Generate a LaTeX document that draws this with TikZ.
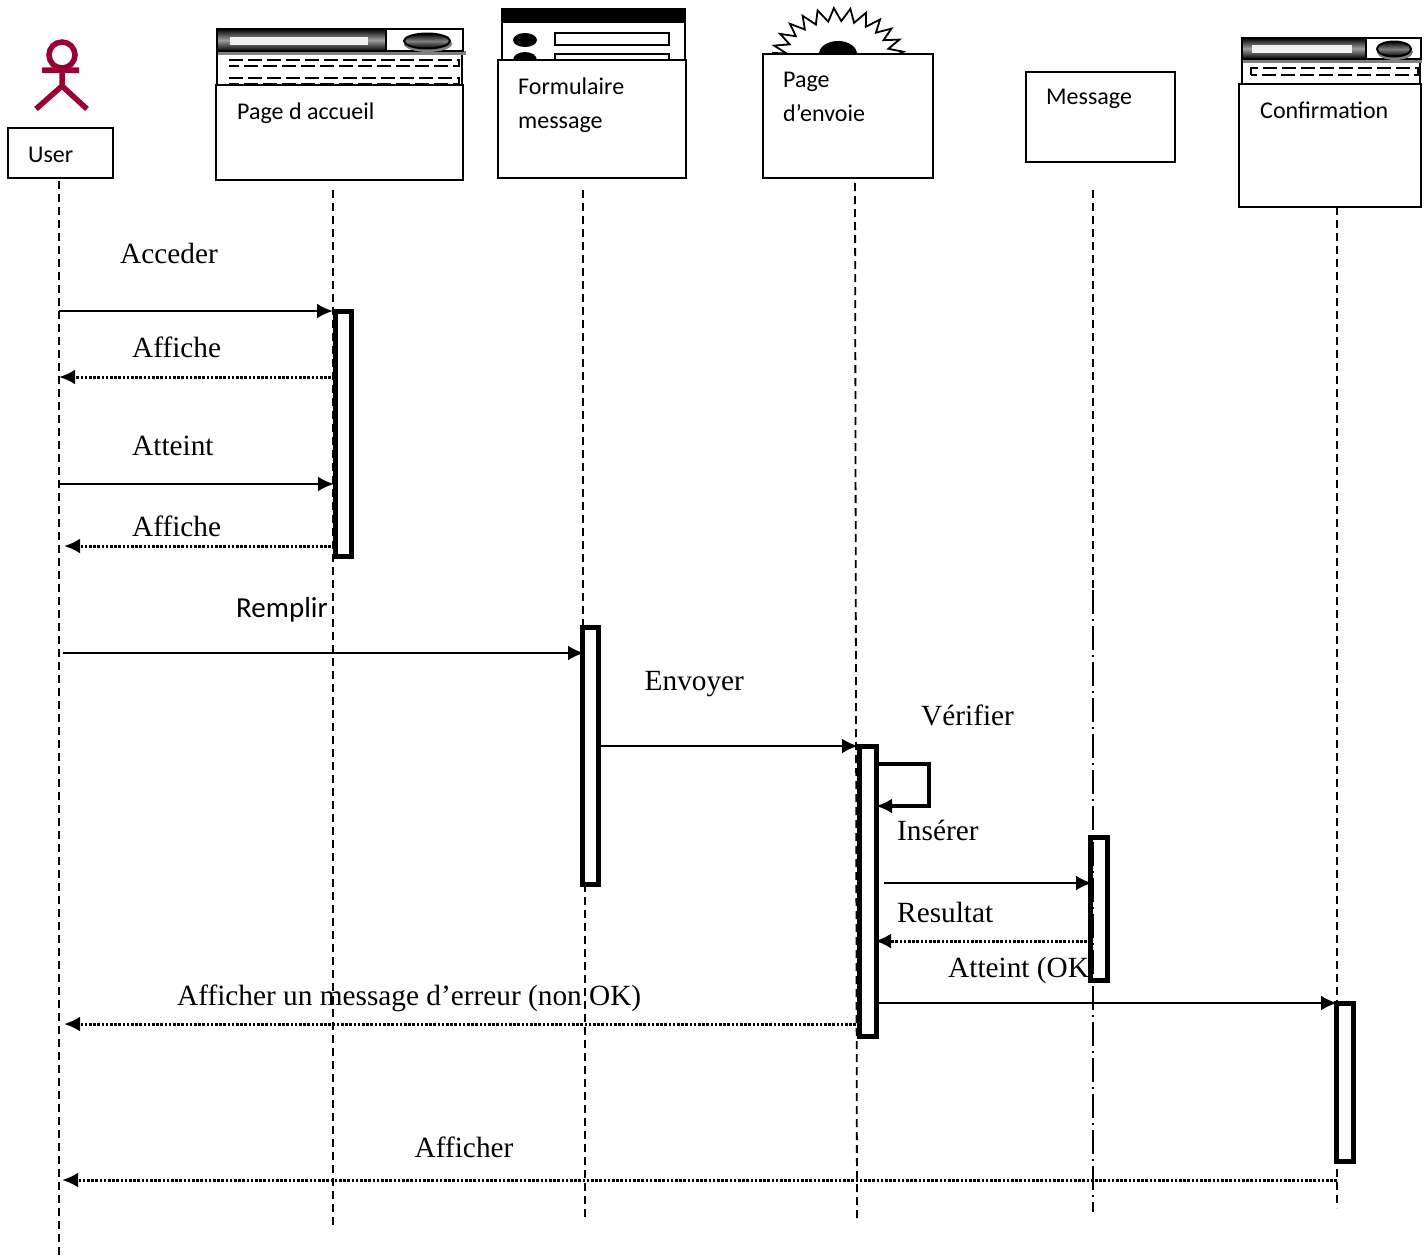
\documentclass[tikz,border=0pt]{standalone}
\usepackage{fontspec}
\setmainfont{Liberation Serif}
\newfontfamily\boxfont{Carlito}
\usetikzlibrary{arrows.meta}
\definecolor{actorred}{HTML}{990033}

\begin{document}
\begin{tikzpicture}[x=1pt, y=-1pt, >={Latex[length=16pt,width=15pt]},
  objbox/.style={draw, line width=2pt, fill=white, anchor=north west, inner sep=0pt, outer sep=0pt},
  objtext/.style={anchor=west, inner sep=0pt, align=left, font=\boxfont\fontsize{24}{34}\selectfont},
  msgtext/.style={anchor=west, inner sep=0pt, font=\fontsize{29.3}{34}\selectfont},
  bar/.style={draw, line width=5pt, fill=white, anchor=north west, inner sep=0pt, outer sep=0pt},
  life/.style={line width=1.8pt, dash pattern=on 8pt off 5pt},
  call/.style={->, line width=2.8pt},
  reply/.style={->, line width=3pt, dash pattern=on 2.6pt off 1.6pt},
  titlebar/.style={draw=black, line width=2.5pt, top color=black, bottom color=black, middle color=gray!75},
  dashrow/.style={draw, line width=2.6pt, dash pattern=on 14pt off 5pt}]

\useasboundingbox (0,0) rectangle (1426,1259);

% ---- actor ----
\draw[actorred, line width=5.5pt] (62,55) circle (13);
\draw[actorred, line width=5.5pt] (42,70) -- (79,70) (62,70) -- (62,86) (36,109) -- (62,86) -- (87,109);

% ---- window of page d accueil ----
\draw[line width=1.8pt] (217,52) -- (217,85) (462,52) -- (462,85);
\fill[gray] (218,51) rectangle (466,55);
\draw[titlebar] (217,29) rectangle (386,51);
\fill[gray!12] (230,37) rectangle (368,45);
\draw[line width=2pt, fill=white, draw=black] (386,29) rectangle (463,51);
\fill[gray] (428,44) ellipse (24 and 8);
\draw[line width=2pt, top color=black, bottom color=black, middle color=gray] (427,41) ellipse (23 and 7.5);
\draw[dashrow] (229,60) -- (459,60) -- (459,66) -- (229,66);
\draw[dashrow] (229,78) -- (459,78) -- (459,84) -- (229,84);

% ---- window of formulaire ----
\fill (501,8) rectangle (686,23);
\draw[line width=2pt] (502,23) -- (502,60) (685,23) -- (685,60);
\fill (525,40) ellipse (12 and 7);
\fill (525,60) ellipse (12 and 8);
\draw[line width=2pt] (555,33) rectangle (669,45);
\draw[line width=2pt] (555,54) rectangle (669,66);

% ---- sun of page d'envoie ----
\draw[line width=1.8pt, line join=miter] (772,53)
  \foreach \i in {1,...,25} { -- ({838+(mod(\i,2)==1 ? 52 : 66)*cos(180-\i*7.2)}, {58-(mod(\i,2)==1 ? 37 : 50)*sin(180-\i*7.2)}) };
\fill (838,54) ellipse (19 and 13);

% ---- window of confirmation ----
\draw[line width=1.8pt] (1242,60) -- (1242,84) (1420,60) -- (1420,84);
\fill[gray] (1243,59) rectangle (1422,63);
\draw[titlebar] (1242,38) rectangle (1366,59);
\fill[gray!12] (1252,45) rectangle (1352,53);
\draw[line width=2pt, fill=white] (1366,38) rectangle (1421,59);
\fill[gray] (1395,52) ellipse (18 and 8);
\draw[line width=2pt, top color=black, bottom color=black, middle color=gray] (1394,49) ellipse (17 and 7.5);
\draw[dashrow] (1251,75) -- (1251,68) -- (1418,68) -- (1418,75) -- (1251,75);

% ---- objects ----
\node[objbox, minimum width=105pt, minimum height=50pt] (user) at (7.5,128) {};
\node[objbox, minimum width=247pt, minimum height=95pt] (accueil) at (216,85) {};
\node[objbox, minimum width=188pt, minimum height=118pt] (formulaire) at (497.5,60) {};
\node[objbox, minimum width=170pt, minimum height=124pt] (envoie) at (762.5,54) {};
\node[objbox, minimum width=149pt, minimum height=90pt] (message) at (1025.5,72) {};
\node[objbox, minimum width=182pt, minimum height=123pt] (confirmation) at (1239,84) {};

\node[objtext] (tuser) at (28,155) {User};
\node[objtext] (taccueil) at (237,113) {Page d accueil};
\node[objtext] (tform) at (518,105) {Formulaire\\message};
\node[objtext] (tenvoie) at (783,97) {Page\\d’envoie};
\node[objtext] (tmessage) at (1046,99) {Message};
\node[objtext] (tconf) at (1260,110) {Confirmation};

% ---- lifeline ends ----
\coordinate (luser1) at (59,181);
\coordinate (luser2) at (59,1259);
\coordinate (lacc1) at (333,190);
\coordinate (lacc2) at (333,1225);
\coordinate (lform1) at (583,190);
\coordinate (lform2) at (583,627);
\coordinate (lform3) at (585,884);
\coordinate (lform4) at (585,1218);
\coordinate (lenv1) at (855,183);
\coordinate (lenv2) at (857,1220);
\coordinate (lmsg1) at (1093,190);
\coordinate (lmsg2) at (1093,590);
\coordinate (lmsg3) at (1093,1212);
\coordinate (lconf1) at (1337,207);
\coordinate (lconf2) at (1337,1208);

\draw[life] (luser1) -- (luser2);
\draw[life] (lacc1) -- (lacc2);
\draw[life] (lform1) -- (lform2);
\draw[life] (lform3) -- (lform4);
\draw[life] (lenv1) -- (lenv2);
\draw[life] (lconf1) -- (lconf2);

% ---- activation bars ----
\node[bar, minimum width=16pt, minimum height=245pt] (bacc) at (335,311) {};
\node[bar, minimum width=16pt, minimum height=257pt] (bform) at (582,627) {};
\node[bar, minimum width=17pt, minimum height=290pt] (benv) at (859,746) {};
\node[bar, minimum width=17pt, minimum height=143pt] (bmsg) at (1090,837) {};
\node[bar, minimum width=17pt, minimum height=158pt] (bconf) at (1336,1003) {};

\draw[life] (lmsg1) -- (lmsg2);
\draw[line width=1.8pt, dash pattern=on 24pt off 5pt on 2pt off 5pt] (lmsg2) -- (lmsg3);

% ---- message ends ----
\coordinate (a1) at (59,311);
\coordinate (a2) at (333,311);
\coordinate (b1) at (331,377);
\coordinate (b2) at (59,377);
\coordinate (c1) at (59,484);
\coordinate (c2) at (334,484);
\coordinate (d1) at (331,546);
\coordinate (d2) at (64,546);
\coordinate (e1) at (63,653);
\coordinate (e2) at (584,653);
\coordinate (f1) at (600,746);
\coordinate (f2) at (858,746);
\coordinate (g1) at (877,764);
\coordinate (g2) at (929,806);
\coordinate (g3) at (876,806);
\coordinate (h1) at (884,883);
\coordinate (h2) at (1092,883);
\coordinate (i1) at (1087,941);
\coordinate (i2) at (875,941);
\coordinate (j1) at (876,1003);
\coordinate (j2) at (1337,1003);
\coordinate (k1) at (856,1024);
\coordinate (k2) at (64,1024);
\coordinate (m1) at (1337,1180);
\coordinate (m2) at (62,1180);

\node[msgtext] (tacceder) at (120,253) {Acceder};
\node[msgtext] (taffiche) at (132,347) {Affiche};
\node[msgtext] (tatteint) at (132,446) {Atteint};
\node[msgtext] (taffiche2) at (132,526) {Affiche};
\node[anchor=west, inner sep=0pt, font=\boxfont\fontsize{29}{32}\selectfont] (tremplir) at (236,610) {Remplir};
\node[msgtext] (tenvoyer) at (644.5,684) {Envoyer};
\node[msgtext] (tverifier) at (921,715) {Vérifier};
\node[msgtext] (tinserer) at (897,830) {Insérer};
\node[msgtext] (tresultat) at (897,912) {Resultat};
\node[msgtext] (tok) at (948,970) {Atteint (OK};
\node[msgtext] (terreur) at (177,998) {Afficher un message d’erreur (non OK)};
\node[msgtext] (tafficher) at (414.5,1147) {Afficher};

\draw[call] (a1) -- (a2);
\draw[reply] (b1) -- (b2);
\draw[call] (c1) -- (c2);
\draw[reply] (d1) -- (d2);
\draw[call] (e1) -- (e2);
\draw[call] (f1) -- (f2);
\draw[->, line width=3.5pt] (g1) -| (g2) -- (g3);
\draw[call] (h1) -- (h2);
\draw[reply] (i1) -- (i2);
\draw[call] (j1) -- (j2);
\draw[reply] (k1) -- (k2);
\draw[reply] (m1) -- (m2);

\end{tikzpicture}
\end{document}
